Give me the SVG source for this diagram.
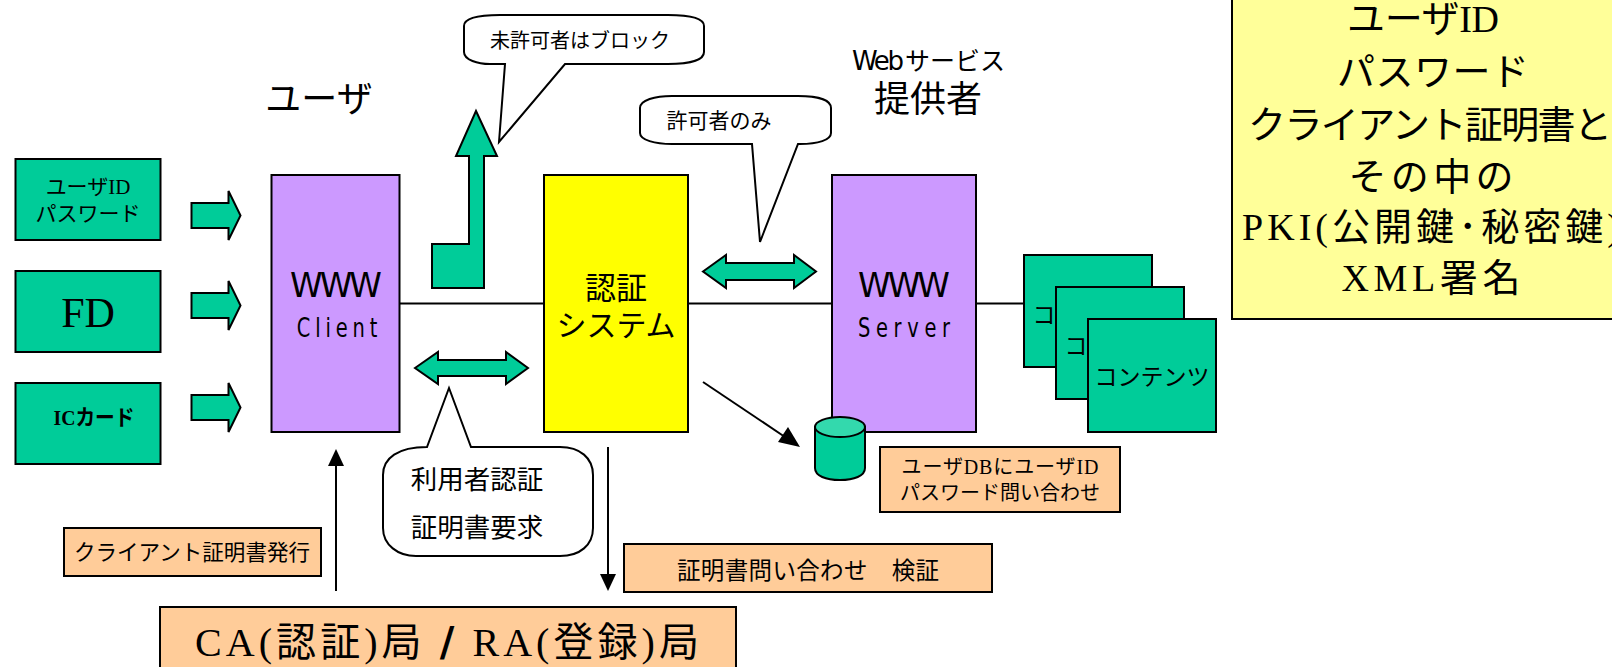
<svg xmlns="http://www.w3.org/2000/svg" width="1612" height="667" viewBox="0 0 1612 667">
<style>
text{font-family:"Liberation Serif","Noto Sans CJK JP",serif;text-anchor:middle;fill:#000}
.s{stroke:#000;stroke-width:2}
.g{fill:#00cc99}.p{fill:#cc99ff}.o{fill:#ffcc99}.y{fill:#ffff00}.w{fill:#fff}
.sans{font-family:"DejaVu Sans",sans-serif}
.l{stroke:#000;stroke-width:2;fill:none}
</style>
<defs>
<path id="ra" d="M0 12H37V0L49 24.500L37 49V37H0Z"/>
</defs>
<g id="connectors">
<path class="l" d="M400 303.500H544M688 303.500H832M976 303.500H1024"/>
<path class="l" d="M336 591V465"/><path d="M336 449L328 466H344Z"/>
<path class="l" d="M608 447V575"/><path d="M608 591L600 574H616Z"/>
<path class="l" d="M703 382L785 437"/><path d="M800 447L778 442L788 427Z"/>
</g>
<g id="note"><rect class="s" x="1232" y="-5" width="390" height="324" fill="#ffff99"/>
<text font-size="38"><tspan x="1423" y="32" textLength="152" lengthAdjust="spacing">ユーザID</tspan><tspan x="1433" y="85" textLength="192" lengthAdjust="spacing">パスワード</tspan><tspan x="1430" y="138" textLength="364" lengthAdjust="spacing">クライアント証明書と</tspan><tspan x="1431" y="190" textLength="165" lengthAdjust="spacing">その中の</tspan><tspan x="1431" y="240" textLength="378" lengthAdjust="spacing">PKI(公開鍵･秘密鍵)</tspan><tspan x="1431" y="291" textLength="179" lengthAdjust="spacing">XML署名</tspan></text></g>
<text id="user-label" x="319" y="112" font-size="36">ユーザ</text>
<g id="provider-label"><text x="878" y="70" font-size="26" class="sans" textLength="52" lengthAdjust="spacing">Web</text><text x="955" y="70" font-size="25" textLength="100" lengthAdjust="spacing">サービス</text><text x="928" y="112" font-size="36">提供者</text></g>
<g id="userid"><rect class="s g" x="15.500" y="159" width="145" height="81"/><text font-size="21"><tspan x="88" y="194">ユーザID</tspan><tspan x="88" y="221">パスワード</tspan></text></g>
<g id="fd"><rect class="s g" x="15.500" y="271" width="145" height="81"/><text x="88" y="327" font-size="42">FD</text></g>
<g id="ic"><rect class="s g" x="15.500" y="383" width="145" height="81"/><text x="94" y="425" font-size="22" font-weight="bold" textLength="81" lengthAdjust="spacingAndGlyphs">ICカード</text></g>
<g id="in-arrows" class="g s"><use href="#ra" x="191.500" y="191"/><use href="#ra" x="191.500" y="281"/><use href="#ra" x="191.500" y="383"/></g>
<g id="client"><rect class="s p" x="271.500" y="175" width="128" height="257"/><text x="336" y="297" font-size="33" class="sans" textLength="92" lengthAdjust="spacing">WWW</text><text transform="translate(337 337) scale(.72 1)" font-size="27" class="sans" textLength="112" lengthAdjust="spacing">Client</text></g>
<path id="block-arrow" class="s g" d="M432 288V244H469V156H456L476 111L497 156H484V288Z"/>
<g id="auth"><rect class="s y" x="544" y="175" width="144" height="257"/><text><tspan x="616" y="299" font-size="31">認証</tspan><tspan x="616" y="336" font-size="30">システム</tspan></text></g>
<g id="server"><rect class="s p" x="832" y="175" width="144" height="257"/><text x="904" y="297" font-size="33" class="sans" textLength="92" lengthAdjust="spacing">WWW</text><text transform="translate(904 337) scale(.72 1)" font-size="27" class="sans" textLength="128" lengthAdjust="spacing">Server</text></g>
<g id="contents1"><rect class="s g" x="1024" y="255" width="128" height="112"/><text x="1044" y="323" font-size="23">コ</text></g>
<g id="contents2"><rect class="s g" x="1056" y="287" width="128" height="112"/><text x="1076" y="354" font-size="23">コ</text></g>
<g id="contents3"><rect class="s g" x="1088" y="319" width="128" height="113"/><text x="1152" y="385" font-size="23">コンテンツ</text></g>
<path id="dbl1" class="s g" d="M415 368L438 352V360H506V352L528 368L506 384V376H438V384Z"/>
<path id="dbl2" class="s g" d="M703 271.500L726 255V263H794V255L816 271.500L794 288V280H726V288Z"/>
<g id="callout1"><path class="s w" d="M464 26C464 18 480 15 500 15H668C690 15 704 18 704 26V52C704 60 690 64 668 64H565L499 142L505 64H490C478 64 464 60 464 52Z"/><text x="580" y="48" font-size="20">未許可者はブロック</text></g>
<g id="callout2"><path class="s w" d="M640 108C640 100 655 96 672 96H798C818 96 831 100 831 108V133C831 140 818 144 800 144H798L760 242L752 144H672C655 144 640 140 640 133Z"/><text x="719" y="128" font-size="21">許可者のみ</text></g>
<g id="callout3"><path class="s w" d="M383 475C383 458 398 447 427 447L449 388L471 447H560C580 447 593 458 593 475V528C593 545 580 556 560 556H416C398 556 383 545 383 528Z"/><text font-size="26.500"><tspan x="477" y="489">利用者認証</tspan><tspan x="477" y="537">証明書要求</tspan></text></g>
<g id="db"><path class="s g" d="M815 427V468C815 476 826 480 840 480S865 476 865 468V427Z"/><ellipse class="s" cx="840" cy="427" rx="25" ry="10" fill="#33d9ad"/></g>
<g id="o-issue"><rect class="s o" x="64" y="528" width="257" height="48"/><text x="192" y="560" font-size="22" textLength="236" lengthAdjust="spacingAndGlyphs">クライアント証明書発行</text></g>
<g id="o-verify"><rect class="s o" x="624" y="544" width="368" height="48"/><text x="808" y="579" font-size="23.500" textLength="262" lengthAdjust="spacing">証明書問い合わせ　検証</text></g>
<g id="o-db"><rect class="s o" x="880" y="447" width="240" height="65"/><text font-size="20"><tspan x="1000" y="474" textLength="197" lengthAdjust="spacing">ユーザDBにユーザID</tspan><tspan x="1000" y="500">パスワード問い合わせ</tspan></text></g>
<g id="ca"><rect class="s o" x="160" y="607" width="576" height="70"/><text x="447" y="656" font-size="40" textLength="504" lengthAdjust="spacing">CA(認証)局 <tspan font-weight="bold" class="sans">/</tspan> RA(登録)局</text></g>
</svg>
